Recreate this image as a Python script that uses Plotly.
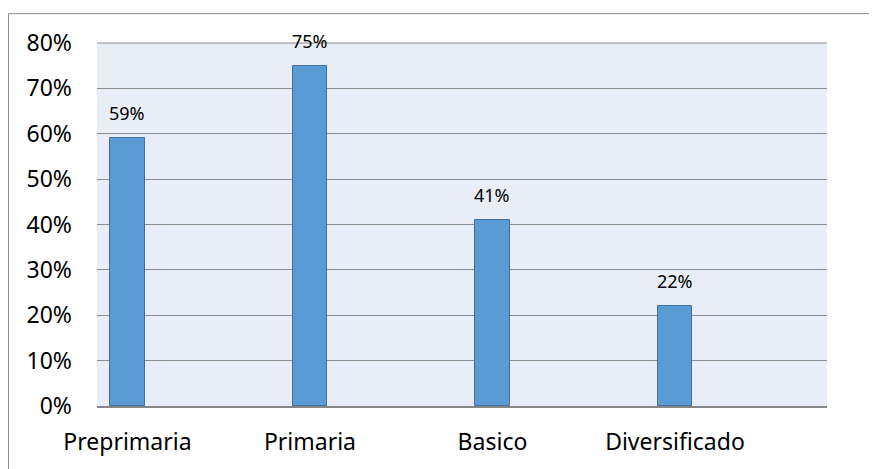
import plotly.graph_objects as go

categories = ["Preprimaria", "Primaria", "Basico", "Diversificado"]
values = [0.59, 0.75, 0.41, 0.22]
value_labels = ["59%", "75%", "41%", "22%"]
y_tick_vals = [0, 0.1, 0.2, 0.3, 0.4, 0.5, 0.6, 0.7, 0.8]
y_tick_text = ["0%", "10%", "20%", "30%", "40%", "50%", "60%", "70%", "80%"]

# page body has an 8px default margin
W, H = 869, 461
L, R, T, B = 89, 50, 35, 61

fig = go.Figure()
fig.add_trace(go.Bar(
    x=list(range(len(categories))),
    y=values,
    width=0.19,
    marker=dict(color="#5B9BD5", line=dict(color="#41719C", width=1)),
    hoverinfo="skip",
))

for i, (v, t) in enumerate(zip(values, value_labels)):
    fig.add_annotation(x=i, y=v, text=t, showarrow=False, yanchor="bottom",
                       yshift=11, font=dict(size=18, color="#000000"))

font = "Noto Sans, Open Sans, DejaVu Sans, sans-serif"
fig.update_layout(
    width=W, height=H,
    margin=dict(l=L, r=R, t=T, b=B, pad=0),
    paper_bgcolor="#FFFFFF",
    plot_bgcolor="#E9EDF7",
    showlegend=False,
    font=dict(family=font, color="#000000"),
    bargap=0,
)
fig.update_xaxes(
    range=[-0.167, 3.833],
    tickmode="array",
    tickvals=list(range(len(categories))),
    ticktext=categories,
    tickfont=dict(size=23, color="#000000"),
    showgrid=False, zeroline=False,
    showline=True, linecolor="#868686", linewidth=2,
    ticks="", ticklabelstandoff=14,
)
fig.update_yaxes(
    range=[0, 0.8],
    tickmode="array",
    tickvals=y_tick_vals,
    ticktext=y_tick_text,
    tickfont=dict(size=23, color="#000000"),
    showgrid=True, gridcolor="#8C8C8C", gridwidth=1,
    zeroline=False, showline=False,
    ticks="", ticklabelstandoff=24,
)

fig.add_shape(type="rect", xref="paper", yref="paper",
              x0=-0.1212, x1=1.0726, y0=-0.1836, y1=1.0808,
              line=dict(color="#8C8C8C", width=1), fillcolor="rgba(0,0,0,0)",
              layer="below")
fig.add_shape(type="line", xref="paper", yref="paper",
              x0=0, x1=1, y0=1, y1=1,
              line=dict(color="#8C8C8C", width=1))

fig.write_html("out.html")
